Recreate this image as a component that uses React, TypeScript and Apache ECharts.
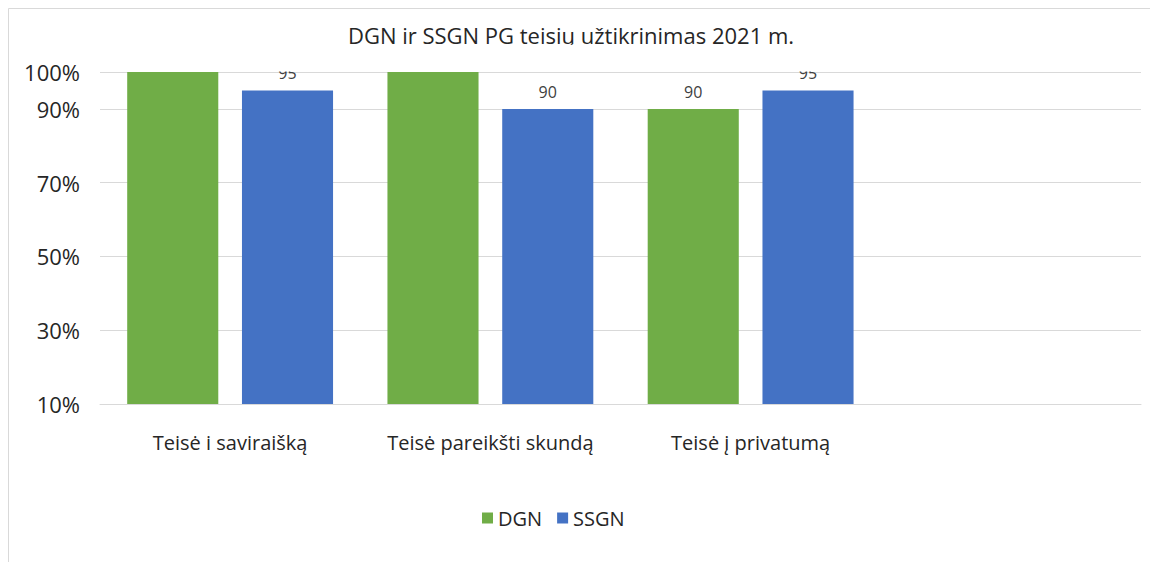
import React, { useEffect, useRef } from "react";
import * as echarts from "echarts";

const TITLE = "DGN ir SSGN PG teisių užtikrinimas 2021 m.";
const categories = ["Teisė i saviraišką", "Teisė pareikšti skundą", "Teisė į privatumą", ""];
const dgnValues: (number | string)[] = [100, 100, 90, "-"];
const ssgnValues: (number | string)[] = [95, 90, 95, "-"];
const yTicks = [10, 30, 50, 70, 90, 100];
const Y_MIN = 10;
const Y_MAX = 100;

const FONT = "'Open Sans', 'Noto Sans', sans-serif";
const TXT = "#262626";

export default function App() {
  const ref = useRef<HTMLDivElement>(null);
  useEffect(() => {
    if (!ref.current) return;
    const chart = echarts.init(ref.current, undefined, { renderer: "svg" });
    const labelCfg = {
      show: true,
      position: "top" as const,
      distance: 9,
      color: "#404040",
      fontSize: 16,
      fontFamily: FONT,
      formatter: (p: any) => (p.value >= Y_MAX ? "" : String(p.value)),
    };
    chart.setOption({
      animation: false,
      backgroundColor: "#ffffff",
      textStyle: { fontFamily: FONT },
      title: {
        text: TITLE,
        left: 566,
        textAlign: "center",
        top: 19,
        textStyle: { fontFamily: FONT, fontSize: 22, fontWeight: "normal", color: TXT },
      },
      legend: {
        data: ["DGN", "SSGN"],
        left: 477,
        top: 503,
        itemWidth: 11,
        itemHeight: 11,
        itemGap: 15,
        icon: "rect",
        textStyle: { fontFamily: FONT, fontSize: 20, color: TXT },
      },
      grid: { left: 100, right: 9, top: 72, bottom: 158, containLabel: false },
      xAxis: {
        type: "category",
        data: categories,
        axisLine: { show: true, lineStyle: { color: "#d9d9d9", width: 1 } },
        axisTick: { show: false },
        axisLabel: {
          interval: 0,
          hideOverlap: false,
          fontFamily: FONT,
          fontSize: 20,
          color: TXT,
          margin: 28,
        },
      },
      yAxis: {
        type: "value",
        min: Y_MIN,
        max: Y_MAX,
        axisLine: { show: false },
        axisTick: { show: false, customValues: yTicks },
        axisLabel: {
          customValues: yTicks,
          formatter: (v: number) => v + "%",
          fontFamily: FONT,
          fontSize: 22,
          color: TXT,
          margin: 20,
        },
        splitLine: { show: true, lineStyle: { color: "#d9d9d9", width: 1 } },
      },
      graphic: [
        {
          type: "rect",
          z: 100,
          silent: true,
          shape: { x: 100, y: 45, width: 1040, height: 26.5 },
          style: { fill: "#ffffff" },
        },
        {
          type: "rect",
          z: 101,
          silent: true,
          shape: { x: 8.5, y: 8.5, width: 1300, height: 700 },
          style: { fill: "none", stroke: "#d9d9d9", lineWidth: 1 },
        },
      ],
      series: [
        {
          name: "DGN",
          type: "bar",
          data: dgnValues,
          barWidth: "35%",
          barGap: "26%",
          itemStyle: { color: "#70ad47" },
          label: labelCfg,
        },
        {
          name: "SSGN",
          type: "bar",
          data: ssgnValues,
          barWidth: "35%",
          barGap: "26%",
          itemStyle: { color: "#4472c4" },
          label: labelCfg,
        },
      ],
    });
    return () => chart.dispose();
  }, []);
  return (
    <div
      ref={ref}
      style={{ position: "absolute", left: 0, top: 0, width: 1150, height: 562 }}
    />
  );
}
